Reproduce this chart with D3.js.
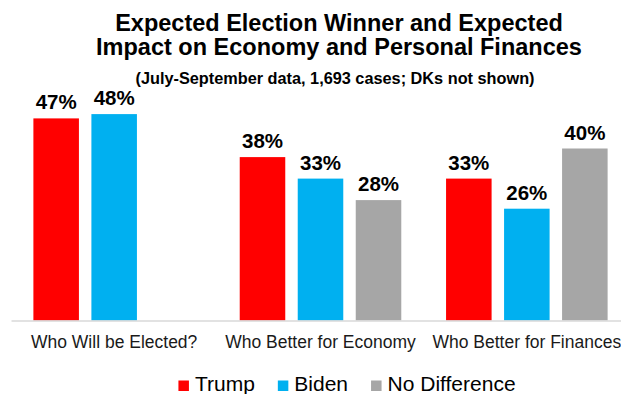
<!DOCTYPE html>
<html>
<head>
<meta charset="utf-8">
<script src="https://cdn.jsdelivr.net/npm/d3@7"></script>
<style>
    html, body { margin: 0; padding: 0; background: #fff; }
    svg { display: block; font-family: Arial, "Liberation Sans", sans-serif; }
    .title { font-size: 23.5px; font-weight: bold; fill: #000; }
    .subtitle { font-size: 16.3px; font-weight: bold; fill: #000; }
    .value-label { font-size: 20.5px; font-weight: bold; fill: #000; }
    .x-axis text { font-size: 17.5px; fill: #1a1a1a; font-family: Arial, "Liberation Sans", sans-serif; }
    .x-axis path { stroke: #d9d9d9; stroke-width: 1.5; }
    .legend text { font-size: 21px; fill: #000; }
</style>
</head>
<body>
<div id="chart"></div>
<script>
const categories = ["Who Will be Elected?", "Who Better for Economy", "Who Better for Finances"];
const seriesNames = ["Trump", "Biden", "No Difference"];
const trumpValues = [47, 38, 33];
const bidenValues = [48, 33, 26];
const noDiffValues = [null, 28, 40];
const seriesColors = ["#ff0000", "#00b0f0", "#a6a6a6"];

const titleLines = ["Expected Election Winner and Expected", "Impact on Economy and Personal Finances"];
const subtitle = "(July-September data, 1,693 cases; DKs not shown)";

const width = 621;
const height = 394;

const svg = d3.select("#chart")
    .append("svg")
    .attr("width", width)
    .attr("height", height);

// rows for each category
const rows = categories.map((c, i) => ({
    category: c,
    values: [trumpValues[i], bidenValues[i], noDiffValues[i]]
        .map((v, j) => ({ series: seriesNames[j], value: v }))
        .filter(d => d.value !== null)
}));

const x0 = d3.scaleBand()
    .domain(categories)
    .range([11, 630])
    .padding(0);

const x1 = d3.scaleBand()
    .domain(seriesNames)
    .range([0, x0.bandwidth()])
    .paddingInner(0.215)
    .paddingOuter(0.386);

const y = d3.scaleLinear()
    .domain([0, 50])
    .range([320.5, 105.5]);

const color = d3.scaleOrdinal()
    .domain(seriesNames)
    .range(seriesColors);

// title
svg.append("g")
    .selectAll("text")
    .data(titleLines)
    .join("text")
    .attr("class", "title")
    .attr("x", 339)
    .attr("y", (d, i) => 31 + i * 23.5)
    .attr("text-anchor", "middle")
    .text(d => d);

svg.append("text")
    .attr("class", "subtitle")
    .attr("x", 335)
    .attr("y", 84)
    .attr("text-anchor", "middle")
    .text(subtitle);

// bars
const groups = svg.append("g")
    .selectAll("g")
    .data(rows)
    .join("g")
    .attr("transform", d => `translate(${x0(d.category)},0)`);

groups.selectAll("rect")
    .data(d => d.values)
    .join("rect")
    .attr("x", d => x1(d.series))
    .attr("y", d => y(d.value))
    .attr("width", x1.bandwidth())
    .attr("height", d => y(0) - y(d.value))
    .attr("fill", d => color(d.series));

groups.selectAll("text")
    .data(d => d.values)
    .join("text")
    .attr("class", "value-label")
    .attr("x", d => x1(d.series) + x1.bandwidth() / 2)
    .attr("y", d => y(d.value) - 9)
    .attr("text-anchor", "middle")
    .text(d => `${d.value}%`);

// x axis
const axis = svg.append("g")
    .attr("class", "x-axis")
    .attr("transform", `translate(0,${y(0)})`)
    .call(d3.axisBottom(x0).tickSize(0).tickPadding(15));

axis.selectAll(".tick line").remove();

// legend
const legend = svg.append("g").attr("class", "legend");
const items = legend.selectAll("g")
    .data(seriesNames)
    .join("g");

items.append("rect")
    .attr("width", 10.5)
    .attr("height", 10.5)
    .attr("y", 380.5)
    .attr("fill", d => color(d));

items.append("text")
    .attr("x", 16.5)
    .attr("y", 391)
    .text(d => d);

let offset = 0;
const positions = [];
items.each(function () {
    positions.push(offset);
    offset += this.getBBox().width + 23;
});
const legendWidth = offset - 23;
const legendStart = 347 - legendWidth / 2;
items.attr("transform", (d, i) => `translate(${legendStart + positions[i]},0)`);
</script>
</body>
</html>
